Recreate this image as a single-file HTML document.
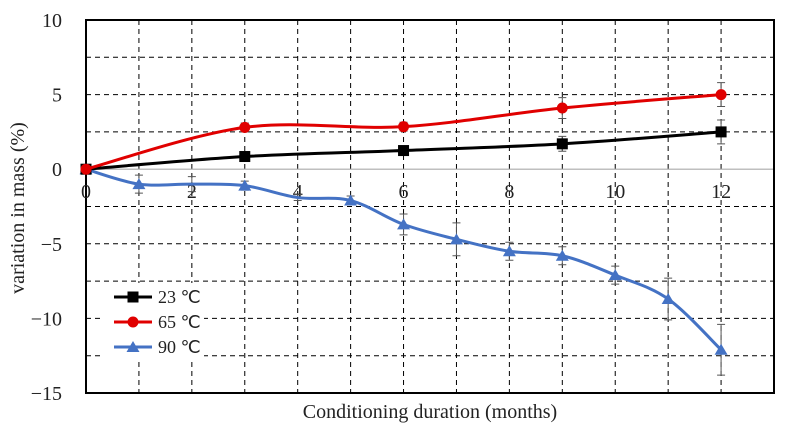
<!DOCTYPE html>
<html><head><meta charset="utf-8"><style>
body{margin:0;background:#fff}
svg text{font-family:"Liberation Serif",serif;fill:#222}
</style></head><body>
<svg id="c" width="786" height="435"></svg>
<script>
const monthsAll=[0,1,2,3,4,5,6,7,8,9,10,11,12];
const months4=[0,3,6,9,12];
const s23=[0,0.85,1.25,1.7,2.5];
const e23=[0,0.2,0.3,0.5,0.8];
const s65=[0,2.8,2.85,4.1,5.0];
const e65=[0,0.3,0.3,0.7,0.8];
const s90=[0,-1.0,-1.0,-1.1,-1.9,-2.1,-3.7,-4.7,-5.5,-5.8,-7.1,-8.7,-12.1];
const e90=[0,0.6,0.5,0.3,0.2,0.3,0.7,1.1,0.6,0.6,0.6,1.4,1.7];
const hidden90=[2,4];
const xTicks=[0,2,4,6,8,10,12];
const yTicks=[10,5,0,-5,-10,-15];
const L=86,R=774,T=20,B=393;
const X=v=>L+v*(R-L)/13, Y=v=>T+(10-v)*(B-T)/25;
const svg=document.getElementById('c');
const NS='http://www.w3.org/2000/svg';
function el(t,a,p){const e=document.createElementNS(NS,t);for(const k in a)e.setAttribute(k,a[k]);(p||svg).appendChild(e);return e;}
for(let m=1;m<13;m++){const g=el('line',{x1:X(m),x2:X(m),y1:T,y2:B,stroke:'#000','stroke-width':1,'stroke-dasharray':'5,4'});
}
for(let v=7.5;v>-15;v-=2.5){if(v===0)continue;const g=el('line',{x1:L,x2:R,y1:Y(v),y2:Y(v),stroke:'#000','stroke-width':1,'stroke-dasharray':'5,4'});
}
const z=el('line',{x1:L,x2:R,y1:Y(0),y2:Y(0),stroke:'#aaa','stroke-width':1.2});

const fr=el('rect',{x:L,y:T,width:R-L,height:B-T,fill:'none',stroke:'#000','stroke-width':2});

yTicks.forEach(v=>{const t=el('text',{x:62,y:Y(v)+7,'text-anchor':'end','font-size':20});t.textContent=v<0?'\u2212'+(-v):v;
});
xTicks.forEach(v=>{const t=el('text',{x:X(v),y:Y(0)+29,'text-anchor':'middle','font-size':20});t.textContent=v;
});
const xt=el('text',{x:430,y:418,'text-anchor':'middle','font-size':20});xt.textContent='Conditioning duration (months)';

const yt=el('text',{x:0,y:0,'text-anchor':'middle','font-size':20,transform:'translate(24,208) rotate(-90)'});yt.textContent='variation in mass (%)';

function path(xs,ys){const p=xs.map((x,i)=>[X(x),Y(ys[i])]);let d='M'+p[0];
for(let i=0;i<p.length-1;i++){const p0=p[i-1]||p[i],p1=p[i],p2=p[i+1],p3=p[i+2]||p2;
d+=`C${p1[0]+(p2[0]-p0[0])/6},${p1[1]+(p2[1]-p0[1])/6} ${p2[0]-(p3[0]-p1[0])/6},${p2[1]-(p3[1]-p1[1])/6} ${p2[0]},${p2[1]}`;}return d;}
function series(xs,ys,es,col,shape,name,skip){
xs.forEach((x,i)=>{if(!es[i])return;const g=el('path',{d:`M${X(x)},${Y(ys[i]+es[i])}V${Y(ys[i]-es[i])}M${X(x)-4},${Y(ys[i]+es[i])}h8M${X(x)-4},${Y(ys[i]-es[i])}h8`,stroke:'#555','stroke-width':1,fill:'none'});
});
const l=el('path',{d:path(xs,ys),stroke:col,'stroke-width':3,fill:'none'});

xs.forEach((x,i)=>{if(skip&&skip.includes(x))return;marker(X(x),Y(ys[i]),col,shape,name);});}
function marker(cx,cy,col,shape,name){let m;
if(shape==='sq')m=el('rect',{x:cx-5.5,y:cy-5.5,width:11,height:11,fill:col});
else if(shape==='c')m=el('circle',{cx:cx,cy:cy,r:5.5,fill:col});
else m=el('path',{d:`M${cx},${cy-6}L${cx+6.5},${cy+5}L${cx-6.5},${cy+5}Z`,fill:col});
}
series(monthsAll,s90,e90,'#4472c4','tri','series-90c',hidden90);
series(months4,s23,e23,'#000','sq','series-23c');
series(months4,s65,e65,'#e00000','c','series-65c');
const lb=el('rect',{x:104,y:283,width:100,height:76,fill:'#fff'});

[['23 \u2103','#000','sq','23c'],['65 \u2103','#e00000','c','65c'],['90 \u2103','#4472c4','tri','90c']].forEach((e,i)=>{const y=297+i*25;
const ln=el('line',{x1:114,x2:152,y1:y,y2:y,stroke:e[1],'stroke-width':3});

marker(133,y,e[1],e[2],'legend-'+e[3]);
const t=el('text',{x:158,y:y+6,'font-size':18});t.textContent=e[0];
});
</script>
</body></html>
